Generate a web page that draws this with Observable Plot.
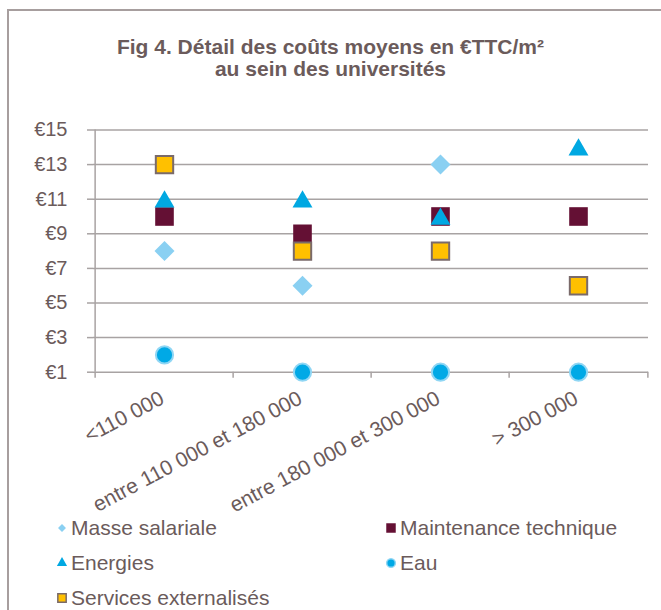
<!DOCTYPE html>
<html>
<head>
<meta charset="utf-8">
<script src="https://cdn.jsdelivr.net/npm/d3@7"></script>
<script src="https://cdn.jsdelivr.net/npm/@observablehq/plot@0.6"></script>
<style>
  html, body { margin: 0; padding: 0; background: #fff; }
  body { width: 661px; height: 610px; position: relative; overflow: hidden; font-family: "Liberation Sans", Arial, sans-serif; }
  #frame { position: absolute; left: 7px; top: 9px; right: -10px; bottom: -10px; border-top: 2px solid #a79e9e; border-left: 2px solid #a79e9e; }
  #title { position: absolute; left: 0; top: 36px; width: 661px; text-align: center; font-weight: bold; font-size: 21px; line-height: 22px; color: #6b5b5b; }
  #chart { position: absolute; left: 0; top: 100px; }
  #legend { position: absolute; left: 0; top: 514px; width: 661px; font-size: 21px; color: #6b5b5b; }
  .item { position: absolute; height: 28px; display: flex; align-items: center; white-space: nowrap; }
  .item svg { margin-right: 2px; }
</style>
</head>
<body>
<div id="frame"></div>
<div id="title">Fig 4. Détail des coûts moyens en €TTC/m²<br>au sein des universités</div>
<div id="chart"></div>
<div id="legend"></div>
<script>
const categories = ["<110 000", "entre 110 000 et 180 000", "entre 180 000 et 300 000", "> 300 000"];
const seriesNames = ["Masse salariale", "Maintenance technique", "Energies", "Eau", "Services externalisés"];
const masseSalariale = [8, 6, 13, null];
const maintenanceTechnique = [10, 9, 10, 10];
const energies = [11, 11, 10, 14];
const eau = [2, 1, 1, 1];
const servicesExternalises = [13, 8, 8, 6];
const yTicks = [1, 3, 5, 7, 9, 11, 13, 15];

const rows = (vals) => categories.map((c, i) => ({cat: c, v: vals[i]})).filter(d => d.v != null);

const W = 661, H = 410;
const mL = 93, mR = 13;
const band = (W - mL - mR) / categories.length;
const textColor = "#6b5b5b";
const gridColor = "#a8a3a3";

const chart = Plot.plot({
  width: W,
  height: H,
  marginLeft: mL,
  marginRight: mR,
  marginTop: 29.5,
  marginBottom: 138.3,
  style: {fontFamily: '"Liberation Sans", Arial, sans-serif', fontSize: "20px", color: textColor, background: "transparent", overflow: "visible"},
  x: {type: "band", domain: categories, padding: 0},
  y: {domain: [1, 15]},
  marks: [
    Plot.ruleY(yTicks, {stroke: gridColor, strokeWidth: 1.5}),
    Plot.ruleX([0], {x: () => categories[0], dx: -band / 2, y1: 1, y2: 15, stroke: gridColor, strokeWidth: 1.5}),
    Plot.axisY({ticks: yTicks, tickFormat: d => "€" + d, tickSize: 6, tickPadding: 20, stroke: gridColor, strokeWidth: 1.5, fill: textColor, fontSize: 20, label: null}),
    Plot.axisX({text: null, tickSize: 6, dx: -band / 2, stroke: gridColor, strokeWidth: 1.5, label: null}),
    Plot.axisX({ticks: [categories[categories.length - 1]], text: null, tickSize: 6, dx: band / 2, stroke: gridColor, strokeWidth: 1.5, label: null}),
    Plot.axisX({tickSize: 0, tickRotate: -28, textAnchor: "end", dx: -2, dy: 12, fill: textColor, fontSize: 21, label: null}),
    Plot.dot(rows(masseSalariale), {x: "cat", y: "v", symbol: "diamond2", r: 9, fill: "#8ad0f2", stroke: "none"}),
    Plot.dot(rows(maintenanceTechnique), {x: "cat", y: "v", symbol: "square", r: 10.5, fill: "#641034", stroke: "none"}),
    Plot.dot(rows(energies), {x: "cat", y: "v", symbol: "triangle", r: 7.4, dy: 2.5, fill: "#00a8e2", stroke: "none"}),
    Plot.dot(rows(eau), {x: "cat", y: "v", symbol: "circle", r: 8.6, fill: "#00a9e6", stroke: "#8fd6f4", strokeWidth: 2}),
    Plot.dot(rows(servicesExternalises), {x: "cat", y: "v", symbol: "square", r: 9.8, fill: "#ffc000", stroke: "#7a6a6a", strokeWidth: 2})
  ]
});
document.getElementById("chart").appendChild(chart);

// Legend
const legendItems = [
  {name: seriesNames[0], symbol: d3.symbolDiamond2, size: 40, fill: "#8ad0f2", stroke: "none", x: 55, y: 0},
  {name: seriesNames[1], symbol: d3.symbolSquare, size: 90, fill: "#641034", stroke: "none", x: 384, y: 0},
  {name: seriesNames[2], symbol: d3.symbolTriangle, size: 45, fill: "#00a8e2", stroke: "none", x: 55, y: 35},
  {name: seriesNames[3], symbol: d3.symbolCircle, size: 60, fill: "#00a9e6", stroke: "#8fd6f4", x: 384, y: 35},
  {name: seriesNames[4], symbol: d3.symbolSquare, size: 70, fill: "#ffc000", stroke: "#7a6a6a", x: 55, y: 70}
];
const legend = document.getElementById("legend");
for (const it of legendItems) {
  const div = document.createElement("div");
  div.className = "item";
  div.style.left = it.x + "px";
  div.style.top = it.y + "px";
  const path = d3.symbol(it.symbol, it.size)();
  div.innerHTML = `<svg width="14" height="14" viewBox="-7 -7 14 14"><path d="${path}" fill="${it.fill}" stroke="${it.stroke}" stroke-width="1.5"/></svg><span>${it.name}</span>`;
  legend.appendChild(div);
}
</script>
</body>
</html>
